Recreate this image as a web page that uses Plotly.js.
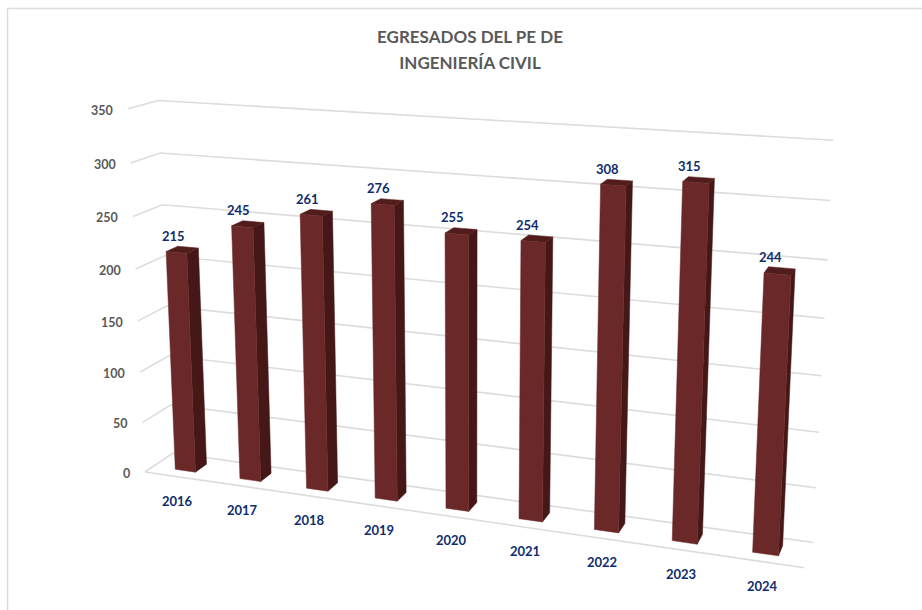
<!DOCTYPE html>
<html>
<head>
<meta charset="utf-8">
<script src="https://cdn.plot.ly/plotly-3.0.1.min.js"></script>
<style>html,body{margin:0;padding:0;background:#fff;overflow:hidden}#chart{width:922px;height:610px}</style>
</head>
<body>
<div id="chart"></div>
<script>
const years = ["2016","2017","2018","2019","2020","2021","2022","2023","2024"];
const egresados = [215,245,261,276,255,254,308,315,244];
const yTicks = [0,50,100,150,200,250,300,350];
const yMax = 350;
const chartTitle = "EGRESADOS DEL PE DE<br>INGENIERÍA CIVIL";

// Perspective camera of the 3-D column chart: vanishing points of the three box axes.
const cam = {
  origin:[145,472],
  vx:[-4174,-155], vy:[470,7460], vz:[1070,-156],
  a:-0.1324, b:-0.0494, c:0.0312
};
// X: 0..1 along categories, V: data value, Z: 0 (front) .. 1 (back wall)
function project(X,V,Z){
  const A=cam.a*X, B=cam.b*(V/yMax), C=cam.c*Z, w=A+B+C+1;
  return [
    (A*cam.vx[0]+B*cam.vy[0]+C*cam.vz[0]+cam.origin[0])/w,
    (A*cam.vx[1]+B*cam.vy[1]+C*cam.vz[1]+cam.origin[1])/w
  ];
}
const barHalf=0.0175, zFront=0.30, zBack=0.71;
const colGrid="#dcdcdc", colFront="#6b2828", colSide="#451717", colTop="#521c1c";
const colNavy="#0f2d6e", colGray="#595959";
const fontName="Lato, 'Open Sans', sans-serif";

function pathTrace(rings,opts){
  const x=[],y=[];
  rings.forEach(r=>{r.forEach(p=>{x.push(p[0]);y.push(p[1]);});x.push(null);y.push(null);});
  return Object.assign({type:"scatter",x,y,hoverinfo:"skip",showlegend:false},opts);
}
// gridlines: side wall + back wall for each tick, plus floor front edge
const gridRings=yTicks.map(t=>[project(0,t,0),project(0,t,1),project(1,t,1)]);
gridRings.push([project(0,0,0),project(1,0,0)]);
const fronts=[],sides=[],tops=[];
egresados.forEach((v,i)=>{
  const xc=(i+0.5)/years.length, l=xc-barHalf, r=xc+barHalf;
  fronts.push([project(l,0,zFront),project(r,0,zFront),project(r,v,zFront),project(l,v,zFront),project(l,0,zFront)]);
  sides.push([project(r,0,zFront),project(r,0,zBack),project(r,v,zBack),project(r,v,zFront),project(r,0,zFront)]);
  tops.push([project(l,v,zFront),project(r,v,zFront),project(r,v,zBack),project(l,v,zBack),project(l,v,zFront)]);
});
const traces=[
  pathTrace(gridRings,{mode:"lines",line:{color:colGrid,width:1.6}}),
  pathTrace(sides,{mode:"lines",fill:"toself",fillcolor:colSide,line:{color:colSide,width:0.5}}),
  pathTrace(tops,{mode:"lines",fill:"toself",fillcolor:colTop,line:{color:colTop,width:0.5}}),
  pathTrace(fronts,{mode:"lines",fill:"toself",fillcolor:colFront,line:{color:colFront,width:0.5}})
];
const annotations=[];
egresados.forEach((v,i)=>{
  const p=project((i+0.5)/years.length,v,0.5);
  annotations.push({x:p[0],y:p[1],xref:"x",yref:"y",text:String(v),showarrow:false,xanchor:"center",yanchor:"middle",
    xshift:-9,yshift:14,font:{family:fontName,size:13,color:colNavy,weight:700}});
  const q=project((i+0.5)/years.length,0,0);
  annotations.push({x:q[0],y:q[1],xref:"x",yref:"y",text:years[i],showarrow:false,xanchor:"center",yanchor:"middle",
    yshift:-24,font:{family:fontName,size:13,color:colNavy,weight:700}});
});
yTicks.forEach(t=>{
  const p=project(0,t,0);
  annotations.push({x:p[0],y:p[1],xref:"x",yref:"y",text:String(t),showarrow:false,xanchor:"right",yanchor:"middle",
    xshift:-13,yshift:-1.5,font:{family:fontName,size:12.5,color:colGray,weight:700}});
});
const layout={
  width:922,height:610,margin:{l:0,r:0,t:0,b:0},
  paper_bgcolor:"#fff",plot_bgcolor:"#fff",showlegend:false,hovermode:false,
  title:{text:'<span style="font-size:17px">'+chartTitle.replace("<br>",'</span><br><span style="font-size:17px">')+'</span>',
    x:470/922,xanchor:"center",y:1-42.5/610,yanchor:"middle",font:{family:fontName,size:20,color:colGray,weight:700}},
  xaxis:{range:[0,922],visible:false,fixedrange:true},
  yaxis:{range:[610,0],visible:false,fixedrange:true},
  annotations,
  shapes:[
    {type:"line",xref:"paper",yref:"paper",x0:7.5/922,x1:1,y0:1-8.5/610,y1:1-8.5/610,line:{color:colGrid,width:1.5}},
    {type:"line",xref:"paper",yref:"paper",x0:7.5/922,x1:7.5/922,y0:1-8.5/610,y1:0,line:{color:colGrid,width:1.5}}
  ]
};
Plotly.newPlot("chart",traces,layout,{displayModeBar:false,staticPlot:true});
</script>
</body>
</html>
